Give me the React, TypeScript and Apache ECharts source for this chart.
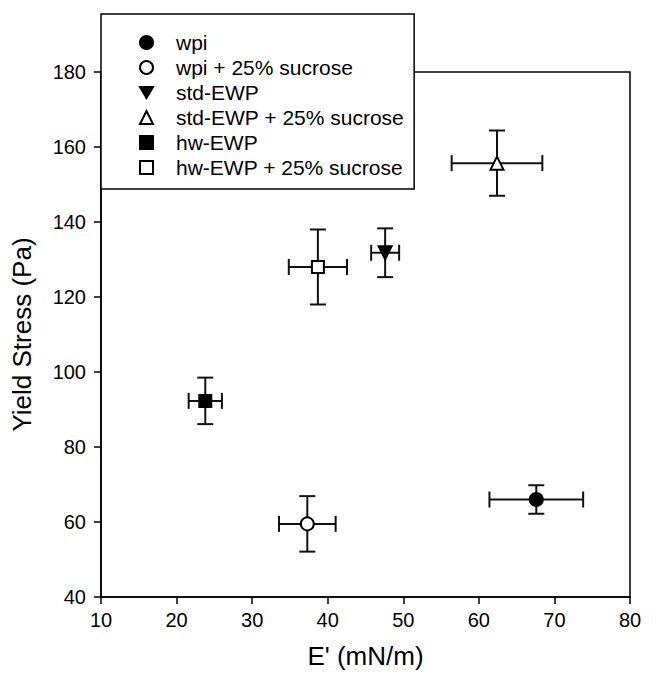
import React, { useEffect, useRef } from "react";
import * as echarts from "echarts";

const seriesNames = [
  "wpi",
  "wpi + 25% sucrose",
  "std-EWP",
  "std-EWP + 25% sucrose",
  "hw-EWP",
  "hw-EWP + 25% sucrose",
];
const xValues = [67.6, 37.3, 47.6, 62.4, 23.8, 38.7];
const yValues = [66.0, 59.5, 131.8, 155.7, 92.3, 128.0];
const xErrors = [6.2, 3.75, 1.85, 6.0, 2.2, 3.85];
const yErrors = [3.8, 7.4, 6.5, 8.7, 6.2, 10.0];
const symbols = ["circle", "circle", "triangle", "triangle", "rect", "rect"];
const symbolRotations = [0, 0, 180, 0, 0, 0];
const filled = [true, false, true, false, true, false];
const xTicks = { min: 10, max: 80, interval: 10 };
const yTicks = { min: 40, max: 180, interval: 20 };

const FONT = "Liberation Sans, Arial, Helvetica, sans-serif";

export default function App() {
  const ref = useRef<HTMLDivElement>(null);
  useEffect(() => {
    if (!ref.current) return;
    const chart = echarts.init(ref.current, undefined, { renderer: "svg" });
    const errData = xValues.map((x, i) => [
      x,
      yValues[i],
      x - xErrors[i],
      x + xErrors[i],
      yValues[i] - yErrors[i],
      yValues[i] + yErrors[i],
    ]);
    const cap = 8;
    const lineStyle = { stroke: "#111", lineWidth: 2 };
    const series: any[] = [
      {
        type: "custom",
        z: 2,
        silent: true,
        data: errData,
        renderItem: (params: any, api: any) => {
          const c = api.coord([api.value(0), api.value(1)]);
          const xl = api.coord([api.value(2), api.value(1)]);
          const xh = api.coord([api.value(3), api.value(1)]);
          const yl = api.coord([api.value(0), api.value(4)]);
          const yh = api.coord([api.value(0), api.value(5)]);
          const mk = (x1: number, y1: number, x2: number, y2: number) => ({
            type: "line",
            shape: { x1, y1, x2, y2 },
            style: lineStyle,
          });
          return {
            type: "group",
            children: [
              mk(xl[0], c[1], xh[0], c[1]),
              mk(xl[0], c[1] - cap, xl[0], c[1] + cap),
              mk(xh[0], c[1] - cap, xh[0], c[1] + cap),
              mk(c[0], yl[1], c[0], yh[1]),
              mk(c[0] - cap, yl[1], c[0] + cap, yl[1]),
              mk(c[0] - cap, yh[1], c[0] + cap, yh[1]),
            ],
          };
        },
      },
    ];
    seriesNames.forEach((name, i) => {
      series.push({
        type: "scatter",
        name,
        z: 5,
        symbol: symbols[i],
        symbolRotate: symbolRotations[i],
        symbolSize: symbols[i] === "rect" ? 12 : 13,
        itemStyle: {
          color: filled[i] ? "#000" : "#fff",
          borderColor: "#000",
          borderWidth: 2,
          opacity: 1,
        },
        data: [[xValues[i], yValues[i]]],
      });
    });
    const legendData = seriesNames.map((name, i) =>
      symbolRotations[i] === 180
        ? { name, icon: "path://M0,0L14,0L7,12Z" }
        : { name }
    );
    chart.setOption({
      animation: false,
      backgroundColor: "#fff",
      textStyle: { fontFamily: FONT, color: "#000" },
      grid: { left: 101, right: 28, top: 72, bottom: 80, show: true, borderColor: "#000", borderWidth: 1.5, backgroundColor: "transparent" },
      legend: {
        data: legendData,
        orient: "vertical",
        left: 101,
        top: 14,
        padding: [16, 10, 9, 38],
        itemWidth: 13,
        itemHeight: 13,
        itemGap: 0,
        backgroundColor: "#fff",
        borderColor: "#000",
        borderWidth: 1.5,
        borderRadius: 0,
        selectedMode: false,
        textStyle: {
          fontFamily: FONT,
          fontSize: 21,
          color: "#000",
          lineHeight: 25,
          padding: [0, 0, 0, 18],
        },
      },
      xAxis: {
        type: "value",
        min: xTicks.min,
        max: xTicks.max,
        interval: xTicks.interval,
        name: "E' (mN/m)",
        nameLocation: "middle",
        nameGap: 46,
        nameTextStyle: { fontFamily: FONT, fontSize: 26, color: "#000" },
        axisLine: { show: true, onZero: false, lineStyle: { color: "#000", width: 1.5 } },
        axisTick: { show: true, inside: false, length: 7, lineStyle: { color: "#000", width: 1.5 } },
        axisLabel: { fontFamily: FONT, fontSize: 20, color: "#000", margin: 13 },
        splitLine: { show: false },
      },
      yAxis: {
        type: "value",
        min: yTicks.min,
        max: yTicks.max,
        interval: yTicks.interval,
        name: "Yield Stress (Pa)",
        nameLocation: "middle",
        nameGap: 66,
        nameTextStyle: { fontFamily: FONT, fontSize: 26, color: "#000" },
        axisLine: { show: true, onZero: false, lineStyle: { color: "#000", width: 1.5 } },
        axisTick: { show: true, inside: false, length: 7, lineStyle: { color: "#000", width: 1.5 } },
        axisLabel: { fontFamily: FONT, fontSize: 20, color: "#000", margin: 15 },
        splitLine: { show: false },
      },
      series,
    });
    return () => chart.dispose();
  }, []);
  return (
    <div
      ref={ref}
      style={{ position: "absolute", left: 0, top: 0, width: 658, height: 677 }}
    />
  );
}
